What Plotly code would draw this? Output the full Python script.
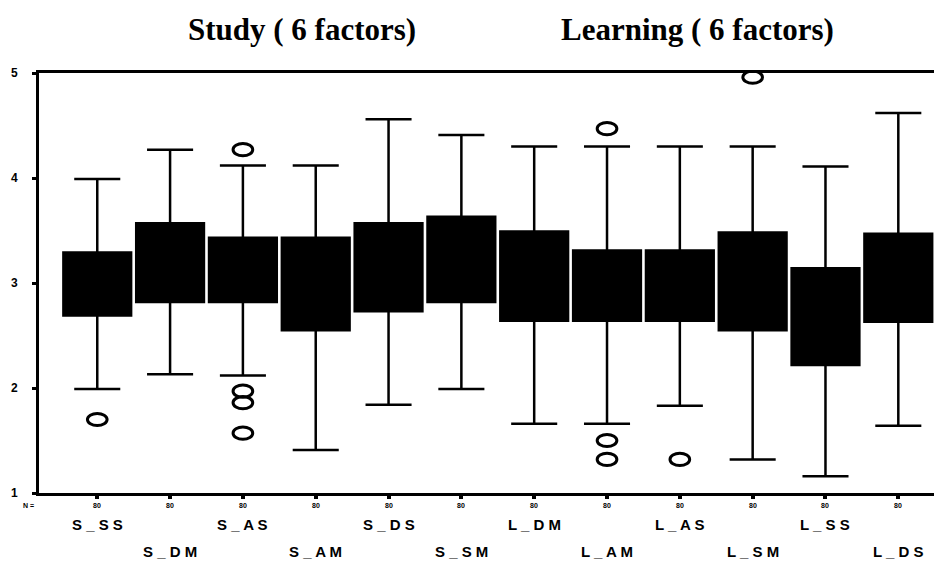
import plotly.graph_objects as go

categories = ["S_SS", "S_DM", "S_AS", "S_AM", "S_DS", "S_SM",
              "L_DM", "L_AM", "L_AS", "L_SM", "L_SS", "L_DS"]
n_values = [80] * 12
q1 = [2.69, 2.82, 2.82, 2.55, 2.73, 2.82, 2.64, 2.64, 2.64, 2.55, 2.22, 2.63]
median = [3.00, 3.17, 3.17, 3.00, 3.17, 3.17, 3.00, 3.00, 3.00, 3.00, 2.67, 3.00]
q3 = [3.29, 3.57, 3.43, 3.43, 3.57, 3.63, 3.49, 3.31, 3.31, 3.48, 3.14, 3.47]
lower = [1.99, 2.13, 2.12, 1.41, 1.84, 1.99, 1.66, 1.66, 1.83, 1.32, 1.16, 1.64]
upper = [3.99, 4.27, 4.12, 4.12, 4.56, 4.41, 4.30, 4.30, 4.30, 4.30, 4.11, 4.62]
outliers = [[1.70], [], [4.27, 1.97, 1.86, 1.57], [], [], [],
            [], [4.47, 1.50, 1.32], [1.32], [4.96], [], []]

titles = ["Study ( 6 factors)", "Learning ( 6 factors)"]
y_ticks = [1, 2, 3, 4, 5]

xpos = list(range(len(categories)))

fig = go.Figure()
fig.add_trace(go.Box(
    x=xpos, q1=q1, median=median, q3=q3,
    lowerfence=lower, upperfence=upper,
    fillcolor="black", line=dict(color="black", width=2.5),
    width=0.93, whiskerwidth=0.68, boxpoints=False,
    showlegend=False, hoverinfo="skip",
))

shapes = []
for i, outs in enumerate(outliers):
    for v in outs:
        shapes.append(dict(type="circle", xref="x", yref="y",
                           x0=i - 0.135, x1=i + 0.135,
                           y0=v - 0.058, y1=v + 0.058,
                           line=dict(color="black", width=3),
                           fillcolor="rgba(0,0,0,0)"))

annotations = []
for i, (c, n) in enumerate(zip(categories, n_values)):
    annotations.append(dict(x=i, y=-0.029, xref="x", yref="paper",
                            text=f"<b>{n}</b>", showarrow=False,
                            font=dict(family="Arial", size=7, color="black"),
                            yanchor="middle"))
    annotations.append(dict(x=i, y=-0.076 if i % 2 == 0 else -0.140,
                            xref="x", yref="paper",
                            text="<b>" + " ".join(c) + "</b>", showarrow=False,
                            font=dict(family="Arial", size=15, color="black"),
                            yanchor="middle"))
annotations.append(dict(x=-0.012, y=-0.029, xref="paper", yref="paper",
                        text="<b>N =</b>", showarrow=False,
                        font=dict(family="Arial", size=7, color="black"),
                        yanchor="middle", xanchor="center"))
for tx, t in zip([0.291, 0.729], titles):
    annotations.append(dict(x=tx, y=1.103, xref="paper", yref="paper",
                            text=f"<b>{t}</b>", showarrow=False,
                            font=dict(family="Liberation Serif", size=31, color="black"),
                            yanchor="middle", xanchor="center"))

fig.update_layout(
    width=934, height=553,
    margin=dict(l=31, r=0, t=65, b=68),
    paper_bgcolor="white", plot_bgcolor="white",
    shapes=shapes, annotations=annotations,
    xaxis=dict(range=[-0.8, 11.6], tickvals=xpos, showticklabels=False,
               ticks="outside", ticklen=3, tickwidth=4, tickcolor="black",
               showline=True, linecolor="black", linewidth=3, mirror=True,
               showgrid=False, zeroline=False, fixedrange=True),
    yaxis=dict(range=[1, 5], tickvals=y_ticks,
               ticktext=[f"<b>{v}</b>" for v in y_ticks],
               ticks="outside", ticklen=4, tickwidth=3, tickcolor="black",
               ticklabelstandoff=12,
               tickfont=dict(family="Arial", size=12, color="black"),
               showline=True, linecolor="black", linewidth=3,
               showgrid=False, zeroline=False, fixedrange=True),
)

fig.write_html("out.html")
